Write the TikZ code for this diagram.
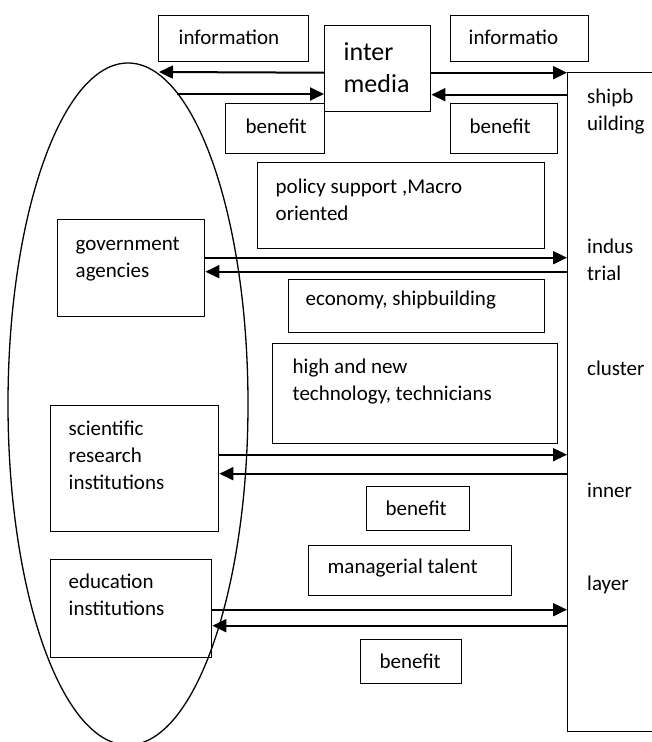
\documentclass[tikz,border=0pt]{standalone}
\usepackage{fontspec}
\setmainfont{Carlito}
\usetikzlibrary{arrows.meta,shapes.geometric}

% box contents: width, height, first baseline, left gap, text
\newcommand{\boxtext}[5]{\parbox[c][#2pt][t]{#1pt}{\raggedright\leftskip=#4pt\relax
  \vspace*{\dimexpr#3pt-\ht\strutbox\relax}\strut#5}}

\begin{document}
\begin{tikzpicture}[x=1pt,y=-1pt]

     \tikzstyle{every node}=[font=\fontsize{21}{27}\selectfont]
     \tikzstyle{block}=[draw,line width=1.4pt,inner sep=0pt,anchor=north west]
     \tikzstyle{flow}=[line width=2pt,-{Triangle[length=14pt,width=13pt]}]
     \tikzstyle{side}=[anchor=base west,inner sep=0pt]

     \useasboundingbox (0,0) rectangle (652,742);

      \begin{scope}
         \node[ellipse,draw,line width=1.3pt,minimum width=240pt,minimum height=682pt,inner sep=0pt] (actors) at (128,404) {};

         \node[block] (info1) at (158,15) {\boxtext{150}{46}{29}{20}{information}};
         \node[block,font=\fontsize{26}{32}\selectfont] (inter) at (324,25) {\boxtext{106}{86}{35}{19}{inter\\media}};
         \node[block] (info2) at (450,15) {\boxtext{138}{46}{29}{18}{informatio}};
         \node[block] (ben1) at (225,103) {\boxtext{99}{50}{30}{20}{benefit}};
         \node[block] (ben2) at (450,103) {\boxtext{107}{50}{30}{19}{benefit}};

         \node[block] (policy) at (257,162) {\boxtext{287}{86}{31}{18}{policy support ,Macro\\oriented}};
         \node[block] (gov) at (57,219) {\boxtext{147}{97}{31}{18}{government\\agencies}};
         \node[block] (econ) at (288,279) {\boxtext{256}{53}{26}{17}{economy, shipbuilding}};
         \node[block] (tech) at (272,343) {\boxtext{285}{100}{30}{20}{high and new\\technology, technicians}};
         \node[block] (sci) at (50,405) {\boxtext{168}{126}{30}{18}{scientific\\research\\institutions}};
         \node[block] (ben3) at (366,486) {\boxtext{103}{44}{29}{19}{benefit}};
         \node[block] (talent) at (308,545) {\boxtext{203}{50}{28}{19}{managerial talent}};
         \node[block] (edu) at (50,559) {\boxtext{161}{98}{29}{18}{education\\institutions}};
         \node[block] (ben4) at (360,639) {\boxtext{101}{44}{29}{19}{benefit}};

         \node[block,minimum width=120pt,minimum height=659pt] (layer) at (567,72) {};

         \node[side] (s1) at (587,103) {shipb};
         \node[side] (s2) at (587,130) {uilding};
         \node[side] (s3) at (587,253) {indus};
         \node[side] (s4) at (587,280) {trial};
         \node[side] (s5) at (587,375) {cluster};
         \node[side] (s6) at (587,497) {inner};
         \node[side] (s7) at (587,590) {layer};

         \coordinate (e1) at (159,72);
         \coordinate (e2) at (177,94);

         \draw[flow] ([yshift=-4pt]inter.west) -- (e1);
         \draw[flow] (e2) -- (e2 -| inter.west);
         \draw[flow] ([yshift=-4pt]inter.east) -- ([yshift=-4pt]inter.east -| layer.west);
         \draw[flow] ([yshift=-26pt]inter.east -| layer.west) -- ([yshift=-26pt]inter.east);

         \draw[flow] ([yshift=10.5pt]gov.east) -- ([yshift=10.5pt]gov.east -| layer.west);
         \draw[flow] ([yshift=-3.5pt]gov.east -| layer.west) -- ([yshift=-3.5pt]gov.east);
         \draw[flow] ([yshift=14pt]sci.east) -- ([yshift=14pt]sci.east -| layer.west);
         \draw[flow] ([yshift=-5pt]sci.east -| layer.west) -- ([yshift=-5pt]sci.east);
         \draw[flow] ([yshift=-1pt]edu.east) -- ([yshift=-1pt]edu.east -| layer.west);
         \draw[flow] ([yshift=-17pt]edu.east -| layer.west) -- ([yshift=-17pt]edu.east);

      \end{scope}
  \end{tikzpicture}
\end{document}
